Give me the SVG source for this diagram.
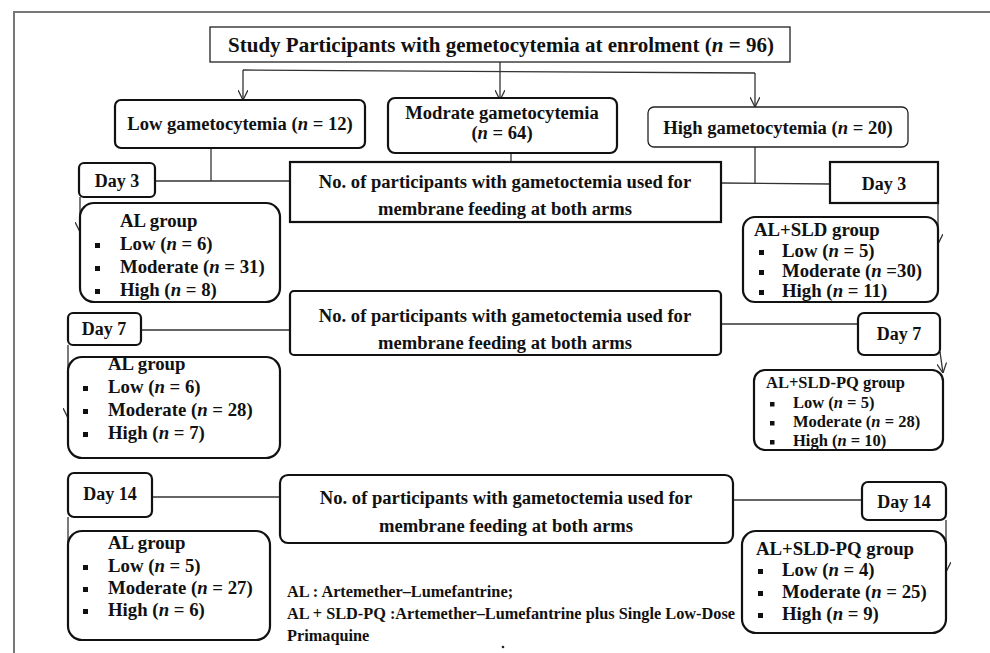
<svg xmlns="http://www.w3.org/2000/svg" width="990" height="653" viewBox="0 0 990 653">
<style>
  .box { fill: #fff; stroke: #111; stroke-width: 2.2; }
  .thin { fill: #fff; stroke: #222; stroke-width: 1.3; }
  .ln { fill: none; stroke: #333; stroke-width: 1.3; }
  text { font-family: "Liberation Serif", "Times New Roman", serif; font-weight: bold; fill: #111; }
  .t21 { font-size: 21px; }
  .tg { font-size: 18.6px; }
  .t19 { font-size: 18.8px; }
  .t18 { font-size: 18px; }
  .tm { font-size: 18.6px; }
  .t16 { font-size: 16.5px; }
  .tl { font-size: 16.3px; }
  .mid { text-anchor: middle; }
  .bul { fill: #111; }
</style>
<defs>
  <marker id="arr" viewBox="0 0 10 10" refX="10" refY="5" markerWidth="10" markerHeight="10" markerUnits="userSpaceOnUse" orient="auto">
    <path d="M0,0 L10,5 L0,10" fill="none" stroke="#333" stroke-width="1.3"/>
  </marker>
</defs>
<rect width="990" height="653" fill="#fff"/>
<path d="M14,653 L14,12 L990,12" fill="none" stroke="#777" stroke-width="2"/>

<g id="connectors">
  <line class="ln" x1="500" y1="62" x2="500" y2="100" stroke-width="2" marker-end="url(#arr)"/>
  <line class="ln" x1="243" y1="70" x2="755" y2="73"/>
  <line class="ln" x1="243" y1="70" x2="243" y2="100" marker-end="url(#arr)"/>
  <line class="ln" x1="755" y1="73" x2="755" y2="107" marker-end="url(#arr)"/>
  <line class="ln" x1="211" y1="148" x2="211" y2="181"/>
  <line class="ln" x1="511" y1="153" x2="511" y2="163"/>
  <line class="ln" x1="755" y1="147" x2="755" y2="184"/>
  <line class="ln" x1="155" y1="181" x2="290" y2="181"/>
  <line class="ln" x1="721" y1="183" x2="830" y2="184"/>
  <line class="ln" x1="80" y1="197" x2="80" y2="232" marker-end="url(#arr)"/>
  <line class="ln" x1="938" y1="203" x2="938" y2="244" marker-end="url(#arr)"/>
  <line class="ln" x1="141" y1="330" x2="290" y2="330"/>
  <line class="ln" x1="721" y1="324" x2="858" y2="324"/>
  <line class="ln" x1="68" y1="345" x2="68" y2="418" marker-end="url(#arr)"/>
  <line class="ln" x1="940" y1="352" x2="943" y2="373" marker-end="url(#arr)"/>
  <line class="ln" x1="152" y1="497" x2="280" y2="497"/>
  <line class="ln" x1="733" y1="500" x2="862" y2="500"/>
  <line class="ln" x1="68" y1="517" x2="68" y2="625"/>
  <line class="ln" x1="946" y1="520" x2="946" y2="572" marker-end="url(#arr)"/>
</g>

<g id="n-top">
  <rect class="thin" x="210" y="27" width="580" height="35"/>
  <text class="t21 mid" x="501" y="52">Study Participants with gemetocytemia at enrolment (<tspan font-style="italic">n</tspan> = 96)</text>
</g>
<g id="n-low">
  <rect class="box" x="115" y="100" width="250" height="48" rx="6"/>
  <text class="tg mid" x="240" y="130">Low gametocytemia (<tspan font-style="italic">n</tspan> = 12)</text>
</g>
<g id="n-mod">
  <rect class="box" x="388" y="98" width="229" height="55" rx="7"/>
  <text class="tg mid" x="502" y="119">Modrate  gametocytemia</text>
  <text class="tg mid" x="502" y="139">(<tspan font-style="italic">n</tspan> = 64)</text>
</g>
<g id="n-high">
  <rect class="thin" x="648" y="107" width="260" height="40" rx="6"/>
  <text class="tg mid" x="778" y="134">High gametocytemia (<tspan font-style="italic">n</tspan> = 20)</text>
</g>

<g id="n-d3l">
  <rect class="box" x="79" y="163" width="76" height="34" rx="5"/>
  <text class="t18 mid" x="117" y="187">Day 3</text>
</g>
<g id="n-mid1">
  <rect class="box" x="290" y="162" width="431" height="60" stroke-width="2.6"/>
  <text class="tm mid" x="505" y="188">No. of participants with gametoctemia used for</text>
  <text class="tm mid" x="505" y="215">membrane feeding  at both arms</text>
</g>
<g id="n-d3r">
  <rect class="box" x="830" y="162" width="108" height="41"/>
  <text class="t18 mid" x="884" y="190">Day 3</text>
</g>
<g id="n-al3">
  <rect class="box" x="80" y="203" width="200" height="99" rx="14"/>
  <text class="t19" x="120" y="227">AL group</text>
  <rect class="bul" x="95" y="243" width="5" height="5"/><text class="t19" x="120" y="250">Low (<tspan font-style="italic">n</tspan> = 6)</text>
  <rect class="bul" x="95" y="266" width="5" height="5"/><text class="t19" x="120" y="273">Moderate (<tspan font-style="italic">n</tspan> = 31)</text>
  <rect class="bul" x="95" y="289" width="5" height="5"/><text class="t19" x="120" y="296">High (<tspan font-style="italic">n</tspan> = 8)</text>
</g>
<g id="n-sld3">
  <rect class="box" x="743" y="217" width="195" height="85" rx="12"/>
  <text class="t19" x="754" y="236">AL+SLD group</text>
  <rect class="bul" x="759" y="250" width="5" height="5"/><text class="t19" x="782" y="257">Low (<tspan font-style="italic">n</tspan> = 5)</text>
  <rect class="bul" x="759" y="270" width="5" height="5"/><text class="t19" x="782" y="277">Moderate (<tspan font-style="italic">n</tspan> =30)</text>
  <rect class="bul" x="759" y="290" width="5" height="5"/><text class="t19" x="782" y="297">High  (<tspan font-style="italic">n</tspan> = 11)</text>
</g>

<g id="n-d7l">
  <rect class="box" x="68" y="313" width="73" height="32" rx="5"/>
  <text class="t18 mid" x="104" y="335">Day 7</text>
</g>
<g id="n-mid2">
  <rect class="box" x="290" y="291" width="431" height="64" rx="4"/>
  <text class="tm mid" x="505" y="322">No. of participants with gametoctemia used for</text>
  <text class="tm mid" x="505" y="349">membrane feeding  at both arms</text>
</g>
<g id="n-d7r">
  <rect class="box" x="858" y="313" width="82" height="42" rx="6"/>
  <text class="t18 mid" x="899" y="340">Day 7</text>
</g>
<g id="n-al7">
  <rect class="box" x="68" y="357" width="212" height="101" rx="14"/>
  <text class="t19" x="108" y="370">AL group</text>
  <rect class="bul" x="83" y="386" width="5" height="5"/><text class="t19" x="108" y="393">Low  (<tspan font-style="italic">n</tspan> = 6)</text>
  <rect class="bul" x="83" y="409" width="5" height="5"/><text class="t19" x="108" y="416">Moderate (<tspan font-style="italic">n</tspan> = 28)</text>
  <rect class="bul" x="83" y="432" width="5" height="5"/><text class="t19" x="108" y="439">High (<tspan font-style="italic">n</tspan> = 7)</text>
</g>
<g id="n-sld7">
  <rect class="box" x="754" y="370" width="189" height="80" rx="11"/>
  <text class="t16" x="766" y="388">AL+SLD-PQ group</text>
  <rect class="bul" x="770" y="402" width="4.5" height="4.5"/><text class="t16" x="793" y="408">Low (<tspan font-style="italic">n</tspan> = 5)</text>
  <rect class="bul" x="770" y="421" width="4.5" height="4.5"/><text class="t16" x="793" y="427">Moderate (<tspan font-style="italic">n</tspan>  = 28)</text>
  <rect class="bul" x="770" y="440" width="4.5" height="4.5"/><text class="t16" x="793" y="446">High (<tspan font-style="italic">n</tspan> = 10)</text>
</g>

<g id="n-d14l">
  <rect class="box" x="68" y="473" width="84" height="44" rx="6"/>
  <text class="t18 mid" x="110" y="500">Day 14</text>
</g>
<g id="n-mid3">
  <rect class="box" x="280" y="475" width="453" height="68" rx="8"/>
  <text class="tm mid" x="506" y="504">No. of participants with gametoctemia used for</text>
  <text class="tm mid" x="506" y="532">membrane feeding  at both arms</text>
</g>
<g id="n-d14r">
  <rect class="box" x="862" y="482" width="84" height="38" rx="6"/>
  <text class="t18 mid" x="904" y="508">Day 14</text>
</g>
<g id="n-al14">
  <rect class="box" x="68" y="531" width="202" height="109" rx="14"/>
  <text class="t19" x="108" y="549">AL group</text>
  <rect class="bul" x="83" y="565" width="5" height="5"/><text class="t19" x="108" y="572">Low  (<tspan font-style="italic">n</tspan> = 5)</text>
  <rect class="bul" x="83" y="587" width="5" height="5"/><text class="t19" x="108" y="594">Moderate (<tspan font-style="italic">n</tspan> = 27)</text>
  <rect class="bul" x="83" y="609" width="5" height="5"/><text class="t19" x="108" y="616">High (<tspan font-style="italic">n</tspan> = 6)</text>
</g>
<g id="n-sld14">
  <rect class="box" x="742" y="531" width="204" height="102" rx="14"/>
  <text class="t19" x="756" y="555">AL+SLD-PQ group</text>
  <rect class="bul" x="758" y="569" width="5" height="5"/><text class="t19" x="782" y="576">Low (<tspan font-style="italic">n</tspan> = 4)</text>
  <rect class="bul" x="758" y="591" width="5" height="5"/><text class="t19" x="782" y="598">Moderate (<tspan font-style="italic">n</tspan> = 25)</text>
  <rect class="bul" x="758" y="613" width="5" height="5"/><text class="t19" x="782" y="620">High (<tspan font-style="italic">n</tspan> = 9)</text>
</g>

<g id="legend">
  <text class="tl" x="287" y="597">AL : Artemether–Lumefantrine;</text>
  <text class="tl" x="287" y="619">AL + SLD-PQ :Artemether–Lumefantrine plus Single Low-Dose</text>
  <text class="tl" x="287" y="641">Primaquine</text>
  <circle cx="503" cy="647" r="1.3" fill="#222"/>
</g>
</svg>
